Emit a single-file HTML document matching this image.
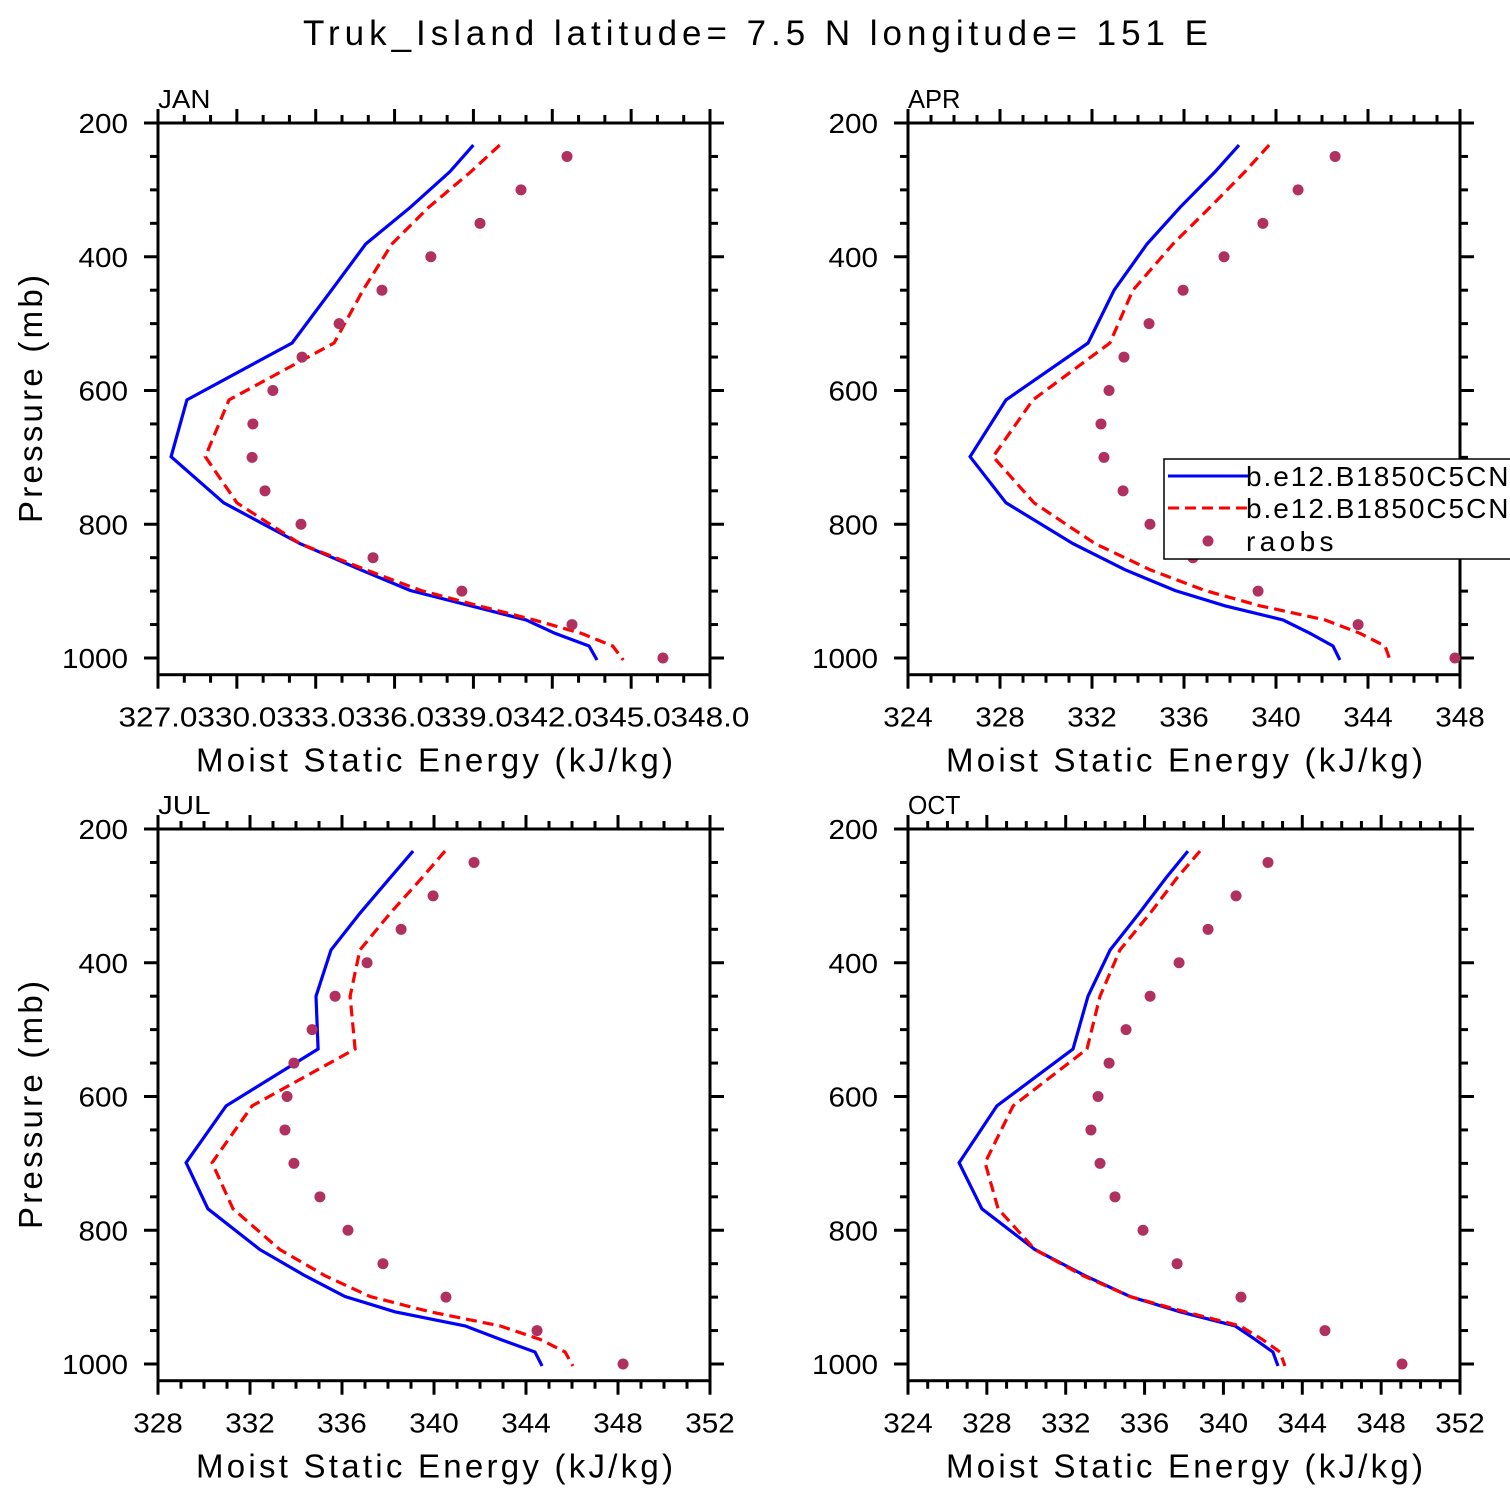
<!DOCTYPE html>
<html><head><meta charset="utf-8">
<style>
html,body{margin:0;padding:0;background:#fff;overflow:hidden;}
svg{display:block;font-family:"Liberation Sans","DejaVu Sans",sans-serif;}
</style></head>
<body>
<svg id="chart" width="1510" height="1510" viewBox="0 0 1510 1510" xmlns="http://www.w3.org/2000/svg">
<rect width="1510" height="1510" fill="#fff"/>
<text x="303" y="45" font-size="35" textLength="905" lengthAdjust="spacing">Truk_Island  latitude= 7.5 N longitude= 151 E</text>
</svg>
<script>
const modelLevels = [233,273,326,381,450,529,614,699,768,829,868,899,922,943,963,982,1003];
const obsLevels = [250,300,350,400,450,500,550,600,650,700,750,800,850,900,950,1000];
const panelNames = ["JAN","APR","JUL","OCT"];
const xMinVals = [327,324,328,324];
const xMaxVals = [348,348,352,352];
const xStepVals = [3,4,4,4];
const janModel1 = [339.0,338.1,336.6,334.9,333.6,332.1,328.1,327.5,329.5,332.4,334.7,336.6,338.9,341.0,342.1,343.4,343.7];
const janModel2 = [340.0,338.9,337.3,335.9,334.8,333.7,329.7,328.8,330.0,332.4,334.9,337.0,339.2,341.3,343.1,344.3,344.7];
const janObs = [342.56,340.81,339.25,337.38,335.52,333.89,332.48,331.37,330.61,330.58,331.07,332.44,335.18,338.56,342.75,346.21];
const aprModel1 = [338.39,337.35,335.83,334.39,332.96,331.83,328.26,326.70,328.26,331.17,333.43,335.61,337.78,340.30,341.48,342.48,342.78];
const aprModel2 = [339.70,338.65,337.13,335.52,333.78,332.78,329.43,327.70,329.48,332.13,334.52,336.91,339.30,342.13,343.65,344.74,344.96];
const aprObs = [342.57,340.96,339.43,337.74,335.96,334.48,333.39,332.74,332.39,332.52,333.35,334.52,336.39,339.22,343.57,347.78];
const julModel1 = [339.09,338.09,336.78,335.52,334.87,334.96,330.96,329.22,330.17,332.43,334.39,336.13,338.30,341.35,342.87,344.39,344.70];
const julModel2 = [340.48,339.48,338.09,336.78,336.35,336.57,332.09,330.35,331.26,333.30,335.26,337.22,339.83,342.87,344.61,345.70,346.04];
const julObs = [341.74,339.96,338.57,337.09,335.70,334.70,333.91,333.61,333.52,333.91,335.04,336.26,337.78,340.52,344.48,348.22];
const octModel1 = [338.20,337.09,335.72,334.25,333.13,332.37,328.51,326.59,327.75,330.44,332.98,335.26,337.80,340.59,341.60,342.51,342.77];
const octModel2 = [338.81,337.65,336.28,334.75,333.74,333.08,329.33,327.91,328.57,330.44,332.88,335.26,338.05,340.84,341.96,342.87,343.12];
const octObs = [342.26,340.64,339.22,337.75,336.28,335.06,334.20,333.64,333.28,333.74,334.50,335.92,337.65,340.89,345.15,349.06];
const model1Sets = [janModel1,aprModel1,julModel1,octModel1];
const model2Sets = [janModel2,aprModel2,julModel2,octModel2];
const obsSets = [janObs,aprObs,julObs,octObs];
const legendLabels = ["b.e12.B1850C5CN","b.e12.B1850C5CN","raobs"];

const NS="http://www.w3.org/2000/svg";
const svg=document.getElementById('chart');
function mk(tag,attrs,parent){const e=document.createElementNS(NS,tag);for(const k in attrs)e.setAttribute(k,attrs[k]);(parent||svg).appendChild(e);return e;}
const W=552, PPM=0.66875;
const origins=[[158,123],[908,123],[158,829],[908,829]];
const boxH=(1025-200)*PPM;

panelNames.forEach((name,i)=>{
  const [x0,y0]=origins[i];
  const xmin=xMinVals[i],xmax=xMaxVals[i],step=xStepVals[i];
  const xs=v=>x0+(v-xmin)/(xmax-xmin)*W;
  const ys=p=>y0+(p-200)*PPM;
  const g=mk('g',{});
  
  
  const yb=y0+boxH;
  const tk=mk('g',{stroke:'#000','stroke-width':3},g);
  for(let v=xmin;v<=xmax+1e-6;v+=1){
    const maj=Math.abs(((v-xmin)/step)-Math.round((v-xmin)/step))<1e-6;
    const L=maj?14:8, x=xs(v);
    mk('line',{x1:x,y1:yb,x2:x,y2:yb+L},tk);
    mk('line',{x1:x,y1:y0,x2:x,y2:y0-L},tk);
    if(maj){
      const lab = step===3 ? v.toFixed(1) : String(v);
      const t=mk('text',{x:x,y:yb+52,'text-anchor':'middle','font-size':28,stroke:'none',textLength: step===3?79:(lab.length*16.5),lengthAdjust:'spacingAndGlyphs'},g);
      t.textContent = lab;
      
      
    }
  }
  for(let p=200;p<=1000;p+=50){
    const maj=p%200===0, L=maj?14:8, y=ys(p);
    mk('line',{x1:x0,y1:y,x2:x0-L,y2:y},tk);
    mk('line',{x1:x0+W,y1:y,x2:x0+W+L,y2:y},tk);
    if(maj){
      const lab=String(p);
      const t=mk('text',{x:x0-30,y:y+10,'text-anchor':'end','font-size':28,textLength:lab.length*16.5,lengthAdjust:'spacingAndGlyphs'},g);
      t.textContent=lab;
      
      
    }
  }
  mk('rect',{x:x0,y:y0,width:W,height:boxH,fill:'none',stroke:'#000','stroke-width':3},g);
  const pt=mk('text',{x:x0,y:y0-15,'font-size':26,textLength:name.length*17.5,lengthAdjust:'spacingAndGlyphs'},g);
  pt.textContent=name;
  
  
  const xl=mk('text',{x:x0+38,y:yb+97,'font-size':33,textLength:477,lengthAdjust:'spacing'},g);
  xl.textContent='Moist Static Energy (kJ/kg)';
  
  
  if(i%2===0){
    const yl=mk('text',{x:0,y:0,'font-size':33,textLength:248,lengthAdjust:'spacing',transform:`translate(${x0-116},${y0+400}) rotate(-90)`},g);
    yl.textContent='Pressure (mb)';
    
    
  }
  const pts=arr=>arr.map((v,k)=>xs(v).toFixed(1)+','+ys(modelLevels[k]).toFixed(1)).join(' ');
  const l1=mk('polyline',{points:pts(model1Sets[i]),fill:'none',stroke:'#0000ff','stroke-width':3.2},g);
  
  
  const l2=mk('polyline',{points:pts(model2Sets[i]),fill:'none',stroke:'#ff0000','stroke-width':3.2,'stroke-dasharray':'11 6'},g);
  
  
  obsSets[i].forEach((v,k)=>{
    const c=mk('circle',{cx:xs(v),cy:ys(obsLevels[k]),r:5.5,fill:'#b03060'},g);
    
    
  });
});

const lg=mk('g',{});


mk('rect',{x:1164,y:459,width:400,height:100,fill:'#fff',stroke:'#000','stroke-width':1.5},lg);
const ly=[476,508,541];
legendLabels.forEach((lab,k)=>{
  const e=mk('g',{},lg);
  
  
  if(k===0) mk('line',{x1:1168,y1:ly[k],x2:1248,y2:ly[k],stroke:'#0000ff','stroke-width':3},e);
  else if(k===1) mk('line',{x1:1168,y1:ly[k],x2:1248,y2:ly[k],stroke:'#ff0000','stroke-width':3,'stroke-dasharray':'11 6'},e);
  else mk('circle',{cx:1208,cy:ly[k],r:5.5,fill:'#b03060'},e);
  const t=mk('text',{x:1246,y:ly[k]+10,'font-size':28,textLength:lab.length*17.5,lengthAdjust:'spacing'},e);
  t.textContent=lab;
});
</script>
</body></html>
